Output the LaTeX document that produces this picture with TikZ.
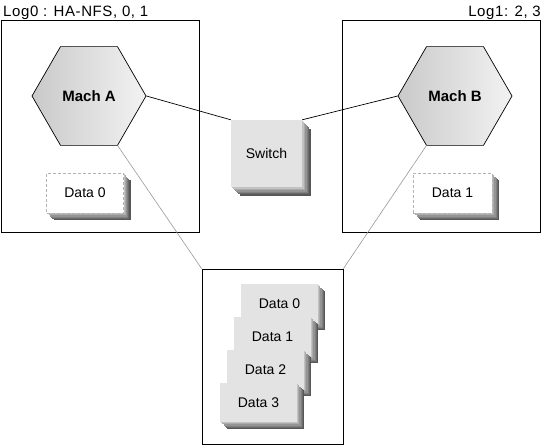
\documentclass[tikz,border=0pt]{standalone}
\usepackage{fontspec}
\setmainfont{Liberation Sans}
\usetikzlibrary{shapes.geometric,shadows}
\tikzset{
  frame/.style={
    % The shape:
    shape=rectangle,inner sep=0pt,
    % The border:
    line width=0.8pt,draw=black,fill=white}}
\tikzset{
  mach/.style={
    % The shape:
    regular polygon,regular polygon sides=6,
    % The size:
    minimum size=114pt,inner sep=0pt,
    % The border:
    line width=0.7pt,draw=black,
    % The filling:
    left color=black!21, % darker on the left...
    right color=black!5, % and lighter on the right
    font=\fontsize{15}{17}\selectfont\bfseries}}
\tikzset{
  extruded/.style={
    % six layers, the outermost one first
    general shadow={fill=black!66,shadow xshift=#1,shadow yshift=-#1},
    general shadow={fill=black!58,shadow xshift=0.83*#1,shadow yshift=-0.83*#1},
    general shadow={fill=black!50,shadow xshift=0.67*#1,shadow yshift=-0.67*#1},
    general shadow={fill=black!42,shadow xshift=0.5*#1,shadow yshift=-0.5*#1},
    general shadow={fill=black!33,shadow xshift=0.33*#1,shadow yshift=-0.33*#1},
    general shadow={fill=black!24,shadow xshift=0.17*#1,shadow yshift=-0.17*#1}}}
\tikzset{
  databox/.style={
    % The shape:
    rectangle,minimum width=77pt,minimum height=39pt,inner sep=0pt,
    % The filling:
    fill=black!11,extruded=7pt,
    font=\fontsize{14}{16}\selectfont},
  ghostbox/.style={
    databox,minimum height=40pt,
    % The border:
    fill=white,draw=black!30,line width=0.8pt,dash pattern=on 3pt off 2pt},
  switchbox/.style={
    databox,minimum width=71pt,minimum height=67pt,extruded=9pt},
  loglabel/.style={font=\fontsize{15}{17}\selectfont\addfontfeature{LetterSpace=4},inner sep=0pt}}

\begin{document}
\begin{tikzpicture}[x=1pt,y=1pt]
	\useasboundingbox (0,0) rectangle (543,-447);
	% Frames
	\node[frame,minimum width=198pt,minimum height=212pt] (frameA) at (100,-126) {};
	\node[frame,minimum width=198pt,minimum height=212pt] (frameB) at (441,-126) {};
	\node[frame,minimum width=141pt,minimum height=175pt] (frameC) at (272.5,-356.5) {};
	\node[loglabel,anchor=base west] (logA) at (3,-16.5) {Log0 : HA-NFS, 0, 1};
	\node[loglabel,anchor=base east] (logB) at (541,-16.5) {Log1: 2, 3};
	% Machines
	\node[mach] (machA) at (89,-96) {Mach A};
	\node[mach] (machB) at (455,-96) {Mach B};
	\node[ghostbox] (dataA) at (85,-193) {Data 0};
	\node[ghostbox,minimum width=79pt] (dataB) at (452.5,-193) {Data 1};
	% The switch
	\node[switchbox] (switch) at (266.5,-153.5) {Switch};
	% The shared disks
	\foreach \i in {0,...,3}
		\node[databox] (disk\i) at (279.5-7*\i,-303.5-33*\i) {Data \i};
	% Lines to the switch
	\draw[line width=0.7pt] (machA.east) -- (switch.north west);
	\draw[line width=0.7pt] (machB.west) -- (switch.north east);
	% Lines to the disks
	\draw[line width=0.6pt,black!40] (machA.300) -- (frameC.north west);
	\draw[line width=0.6pt,black!40] (machB.240) -- (frameC.north east);
\end{tikzpicture}
\end{document}
